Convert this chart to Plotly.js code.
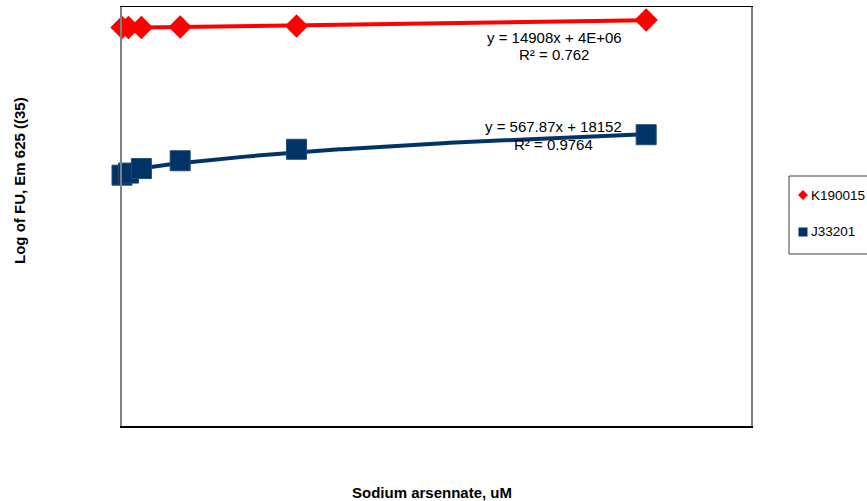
<!DOCTYPE html>
<html>
<head>
<meta charset="utf-8">
<script src="https://cdn.plot.ly/plotly-3.0.1.min.js"></script>
<style>html,body{margin:0;padding:0;background:#fff;}#chart{width:867px;height:501px;}</style>
</head>
<body>
<div id="chart"></div>
<script>
// ---- data ----
var arsenate = [0, 1.23, 3.7, 11.1, 33.3, 100];          // Sodium arsennate, uM
var k190015 = [4550000, 4550000, 4550000, 4630000, 4820000, 6050000];
var j33201  = [15500, 16800, 20000, 27000, 42000, 73500];
var seriesNames = ["K190015", "J33201"];
var trendLabels = [
  ["y = 14908x + 4E+06", "R\u00b2 = 0.762"],
  ["y = 567.87x + 18152", "R\u00b2 = 0.9764"]
];

// least-squares linear trendline (like Excel's linear trendline)
function linfit(x, y) {
  var n = x.length, mx = 0, my = 0;
  for (var i = 0; i < n; i++) { mx += x[i]; my += y[i]; }
  mx /= n; my /= n;
  var sxy = 0, sxx = 0;
  for (var j = 0; j < n; j++) { sxy += (x[j]-mx)*(y[j]-my); sxx += (x[j]-mx)*(x[j]-mx); }
  var b = sxy / sxx;
  return {slope: b, icpt: my - b*mx};
}
function trend(x, y) {
  var f = linfit(x, y), xs = [], ys = [];
  var lo = Math.min.apply(null, x), hi = Math.max.apply(null, x);
  for (var k = 0; k <= 200; k++) {
    var xv = lo + (hi - lo) * k / 200;
    xs.push(xv); ys.push(f.icpt + f.slope * xv);
  }
  return {x: xs, y: ys};
}

var red = "#FF0000", navy = "#003366";
var tK = trend(arsenate, k190015), tJ = trend(arsenate, j33201);

var traces = [
  {x: tK.x, y: tK.y, mode: "lines", line: {color: red, width: 4}, showlegend: false, hoverinfo: "skip"},
  {x: tJ.x, y: tJ.y, mode: "lines", line: {color: navy, width: 4}, showlegend: false, hoverinfo: "skip"},
  {x: arsenate, y: k190015, name: seriesNames[0], mode: "markers", cliponaxis: false,
   marker: {symbol: "diamond", size: 18, color: red}},
  {x: arsenate, y: j33201, name: seriesNames[1], mode: "markers", cliponaxis: false,
   marker: {symbol: "square", size: 20, color: navy, line: {color: "#1f4a78", width: 1}}}
];

// pixel helpers for paper coordinates (plot area 122..751 x 7..426)
var L = 122, R = 751, T = 7, B = 426;
function px(v) { return (v - L) / (R - L); }
function py(v) { return (B - v) / (B - T); }

var font = "Liberation Sans, Arial, sans-serif";
function ann(x, y, text, size, extra) {
  var a = {xref: "paper", yref: "paper", x: px(x), y: py(y), text: text, showarrow: false,
           xanchor: "center", yanchor: "middle", font: {family: font, size: size, color: "#000"}};
  for (var k in (extra || {})) a[k] = extra[k];
  return a;
}
var annotations = [
  ann(20, 181, "<b>Log of FU, Em 625 ((35)</b>", 15, {textangle: -90}),
  ann(432, 492, "<b>Sodium arsennate, uM</b>", 15),
  ann(554, 37, trendLabels[0][0], 15),
  ann(554, 54, trendLabels[0][1], 15),
  ann(553, 127, trendLabels[1][0], 15),
  ann(553, 144, trendLabels[1][1], 15),
  ann(809, 195, seriesNames[0], 13.5, {xanchor: "left"}),
  ann(809, 232, seriesNames[1], 13.5, {xanchor: "left"})
];

var shapes = [
  {type: "rect", xref: "paper", yref: "paper", x0: px(789), x1: px(890), y0: py(176), y1: py(254),
   line: {color: "#404040", width: 1}, fillcolor: "rgba(0,0,0,0)"},
  {type: "path", xref: "paper", yref: "paper",
   path: "M " + px(798) + " " + py(195) + " L " + px(803) + " " + py(190) + " L " + px(808) + " " + py(195) +
         " L " + px(803) + " " + py(200) + " Z", fillcolor: red, line: {width: 0}},
  {type: "rect", xref: "paper", yref: "paper", x0: px(798.5), x1: px(807.5), y0: py(236.5), y1: py(227.5),
   fillcolor: navy, line: {width: 0}}
];

var layout = {
  width: 867, height: 501,
  margin: {l: L, r: 867 - R, t: T, b: 501 - B, pad: 0},
  paper_bgcolor: "#fff", plot_bgcolor: "#fff",
  showlegend: false,
  xaxis: {range: [0, 120], showticklabels: false, ticks: "", showgrid: false, zeroline: false,
          showline: true, linecolor: "#000", linewidth: 1.5, mirror: true, fixedrange: true},
  yaxis: {type: "log", range: [0, 7], showticklabels: false, ticks: "", showgrid: false, zeroline: false,
          showline: true, linecolor: "#808080", linewidth: 2, mirror: true, fixedrange: true},
  annotations: annotations,
  shapes: shapes
};

Plotly.newPlot("chart", traces, layout, {displayModeBar: false, staticPlot: true});
</script>
</body>
</html>
